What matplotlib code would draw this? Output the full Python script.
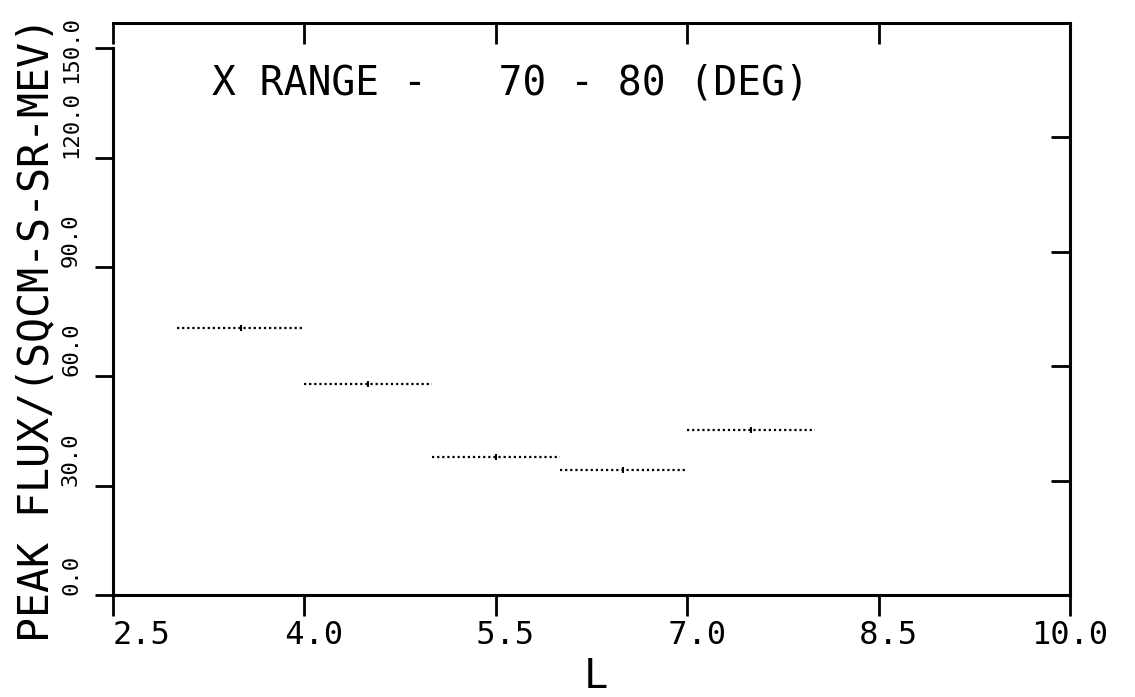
import matplotlib.pyplot as plt
from matplotlib.transforms import ScaledTranslation

# peak flux per L bin (from reference)
l_lo = [3.0, 4.0, 5.0, 6.0, 7.0]
l_hi = [4.0, 5.0, 6.0, 7.0, 8.0]
peak_flux = [73.2, 57.9, 37.8, 34.3, 45.2]

x_ticks = [2.5, 4.0, 5.5, 7.0, 8.5, 10.0]
x_ticklabels = ["2.5", " 4.0", " 5.5", " 7.0", " 8.5", "10.0"]
y_ticks = [0.0, 30.0, 60.0, 90.0, 120.0, 150.0]
y_ticklabels = ["0.0", "30.0", "60.0", "90.0", "120.0", "150.0"]
title = "X RANGE -   70 - 80 (DEG)"
y_label = "PEAK FLUX/(SQCM-S-SR-MEV)"
x_label = "L"

mono = "DejaVu Sans Mono"
W, H = 1135, 697

fig = plt.figure(figsize=(W / 100, H / 100), dpi=100)
ax = fig.add_axes([113 / W, 1 - 595 / H, (1070 - 113) / W, (595 - 23) / H])
ax.set_xlim(2.5, 10.0)
ax.set_ylim(0, 156.9)

for s in ax.spines.values():
    s.set_linewidth(2.2)
ax.spines['left'].set_bounds(0, 150)

# data: dotted horizontal bars
for lo, hi, v in zip(l_lo, l_hi, peak_flux):
    ax.plot([lo, hi], [v, v], color='black', lw=1.6, ls=(0, (1, 1.3)))
    ax.plot([(lo + hi) / 2], [v], marker='|', ms=5, mew=1.5, color='black')

# bottom / left ticks with labels
ax.set_xticks(x_ticks)
xlabs = ax.set_xticklabels(x_ticklabels, fontfamily=mono, fontsize=23)
xlabs[0].set_ha('left')
ax.tick_params(axis='x', direction='out', length=15, width=2, pad=3)

ax.set_yticks(y_ticks)
ylabs = ax.set_yticklabels(y_ticklabels, fontfamily=mono, fontsize=16,
                           rotation=90, va='bottom')
ax.tick_params(axis='y', direction='out', length=13, width=2, pad=10)
ylabs[-1].set_transform(ylabs[-1].get_transform() +
                        ScaledTranslation(0, -0.35, fig.dpi_scale_trans))

# right / top inward ticks (right frame ticks span the full frame height)
ax2 = ax.twinx()
ax2.set_ylim(0, 150)
ax2.set_yticks(y_ticks[1:-1])
ax2.tick_params(axis='y', direction='in', length=14, width=2, labelright=False)
ax3 = ax.twiny()
ax3.set_xlim(ax.get_xlim())
ax3.set_xticks(x_ticks)
ax3.tick_params(axis='x', direction='in', length=15, width=2, labeltop=False)
for a in (ax2, ax3):
    for s in a.spines.values():
        s.set_visible(False)

fig.text(212 / W, 1 - 95 / H, title, fontfamily=mono, fontsize=28.5, va='baseline')
fig.text(36 / W, 1 - 330 / H, y_label, fontfamily=mono, fontsize=30,
         rotation=90, ha='center', va='center')
fig.text(596 / W, 1 - 688 / H, x_label, fontfamily=mono, fontsize=29,
         ha='center', va='baseline')

fig.savefig('out.png', dpi=100)
